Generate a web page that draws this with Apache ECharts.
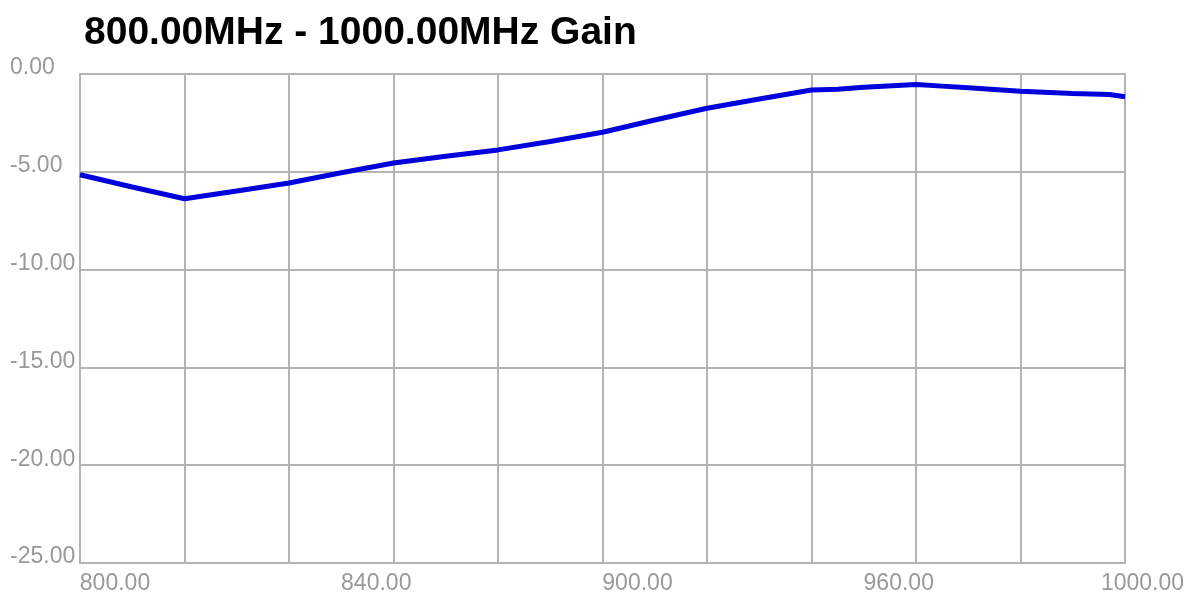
<!DOCTYPE html>
<html>
<head>
<meta charset="utf-8">
<script src="https://cdn.jsdelivr.net/npm/echarts@6/dist/echarts.min.js"></script>
<style>
html,body{margin:0;padding:0;background:#fff;}
#chart{width:1196px;height:597px;}
</style>
</head>
<body>
<div id="chart"></div>
<script>
var titleText = '800.00MHz - 1000.00MHz Gain';
var freqs = [800, 810, 820, 830, 840, 850, 860, 870, 880, 890, 900, 910, 920, 930, 940, 945, 950, 960, 965, 970, 980, 990, 997, 1000];
var gain = [-5.15, -5.78, -6.38, -5.98, -5.57, -5.05, -4.55, -4.20, -3.88, -3.45, -2.98, -2.35, -1.75, -1.28, -0.82, -0.78, -0.68, -0.54, -0.62, -0.70, -0.88, -1.00, -1.05, -1.16];
var xLabelValues = [800, 850, 900, 950, 1000];
var xLabelTexts = ['800.00', '840.00', '900.00', '960.00', '1000.00'];

var gridColor = '#b4b4b4';
var labelColor = '#999999';
var labelFont = 'Liberation Sans, Arial, sans-serif';

var chart = echarts.init(document.getElementById('chart'), null, {renderer: 'canvas'});
chart.setOption({
  animation: false,
  backgroundColor: '#ffffff',
  title: {
    text: titleText,
    left: 84,
    top: 14,
    padding: 0,
    textStyle: {fontSize: 39, fontWeight: 'bold', color: '#000', fontFamily: labelFont}
  },
  grid: {
    left: 80, right: 71, top: 74, bottom: 34,
    show: true, borderColor: gridColor, borderWidth: 2,
    containLabel: false, outerBoundsMode: 'none'
  },
  xAxis: [{
    type: 'value', min: 800, max: 1000, interval: 20, position: 'bottom',
    axisLine: {show: false}, axisTick: {show: false}, axisLabel: {show: false},
    splitLine: {show: true, lineStyle: {color: gridColor, width: 2}}
  }, {
    type: 'value', min: 800, max: 1000, interval: 50, position: 'bottom', offset: 0,
    axisLine: {show: false}, axisTick: {show: false}, splitLine: {show: false},
    axisLabel: {
      show: true, margin: 9, align: 'center', showMinLabel: true, showMaxLabel: true, hideOverlap: false,
      formatter: function (v) {
        var i = xLabelValues.indexOf(v);
        var t = i >= 0 ? xLabelTexts[i] : '';
        if (v === 1000) return '{s2| }{t|' + t + '}';
        return '{s| }{t|' + t + '}';
      },
      rich: {
        s: {width: 70, fontSize: 23, fontFamily: labelFont},
        s2: {width: 35, fontSize: 23, fontFamily: labelFont},
        t: {fontSize: 23, color: labelColor, fontFamily: labelFont}
      }
    }
  }],
  yAxis: {
    type: 'value', min: -25, max: 0, interval: 5,
    axisLine: {show: false}, axisTick: {show: false},
    splitLine: {show: true, lineStyle: {color: gridColor, width: 2}},
    axisLabel: {
      show: true, align: 'left', margin: 70, verticalAlign: 'bottom', lineHeight: 12,
      fontSize: 23, color: labelColor, fontFamily: labelFont,
      formatter: function (v) { return v.toFixed(2); }
    }
  },
  series: [{
    type: 'line', xAxisIndex: 0,
    data: freqs.map(function (f, i) { return [f, gain[i]]; }),
    symbol: 'none', smooth: false,
    lineStyle: {color: '#0000dd', width: 5},
    z: 5
  }]
});
</script>
</body>
</html>
